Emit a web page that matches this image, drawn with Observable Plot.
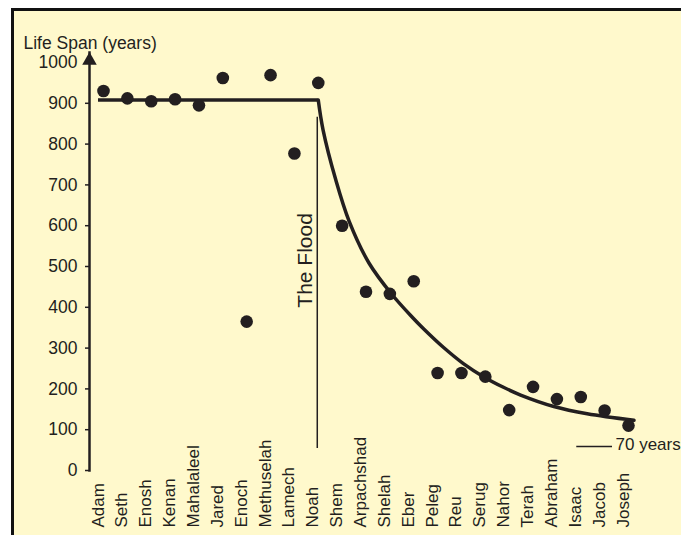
<!DOCTYPE html>
<html>
<head>
<meta charset="utf-8">
<script src="https://cdn.jsdelivr.net/npm/d3@7"></script>
<script src="https://cdn.jsdelivr.net/npm/@observablehq/plot@0.6"></script>
<style>
  html, body { margin: 0; padding: 0; background: #ffffff; }
  #wrap { position: relative; width: 681px; height: 535px; overflow: hidden; }
  #panel { position: absolute; left: 11px; top: 8px; right: 0; bottom: 0;
           background: #fff9cc; border-left: 3px solid #111; border-top: 3px solid #111; }
  #chart { position: absolute; left: 0; top: 0; }
  #chart svg { background: none; }
</style>
</head>
<body>
<div id="wrap"><div id="panel"></div><div id="chart"></div></div>
<script>
// Patriarchs in order (category axis)
const names = ["Adam","Seth","Enosh","Kenan","Mahalaleel","Jared","Enoch","Methuselah","Lamech","Noah",
  "Shem","Arpachshad","Shelah","Eber","Peleg","Reu","Serug","Nahor","Terah","Abraham","Isaac","Jacob","Joseph"];
// Life span (years) of each patriarch
const lifespans = [930, 912, 905, 910, 895, 962, 365, 969, 777, 950,
  600, 438, 433, 464, 239, 239, 230, 148, 205, 175, 180, 147, 110];
// Pre-flood plateau of the trend line
const preFloodLevel = 908;
// Post-flood decay curve (position in patriarch index, years)
const trendPos = [9, 9.2, 9.73, 10.3, 11.13, 12.08, 12.95, 13.4, 14.24, 15.08, 15.92, 16.76, 17.48, 18.87, 20.27, 22.23];
const trendYears = [908, 835, 713, 610, 508, 432, 375, 348, 302, 262, 230, 204, 185, 157, 139, 123];
// Y axis ticks
const yTicks = [0, 100, 200, 300, 400, 500, 600, 700, 800, 900, 1000];
// Flood marker (at Noah) and its label
const floodIndex = 9;
const floodSpan = [54, 866];
const floodLabelY = 515;
const floodLabel = "The Flood";
// 70-year reference annotation
const refLevel = 59;
const refFrom = 20;
const refTo = 22;
const refLabel = "70 years";
const yTitle = "Life Span (years)";

const ink = "#231f20";
const font = "'Liberation Sans Narrow', 'Arial Narrow', 'Liberation Sans', Arial, sans-serif";

const points = names.map((n, i) => ({i, name: n, years: lifespans[i]}));
const trend = trendPos.map((p, k) => ({i: p, years: trendYears[k]}));

const chart = Plot.plot({
  width: 681,
  height: 535,
  marginLeft: 89,
  marginRight: 0,
  marginTop: 52,
  marginBottom: 65,
  style: {background: "none", fontFamily: font, color: ink},
  x: {type: "linear", domain: [0, names.length - 1], range: [103, 628], axis: null},
  y: {domain: [0, 1000], range: [470, 62], axis: null},
  marks: [
    Plot.frame({anchor: "left", stroke: ink, strokeWidth: 2.5}),
    Plot.dot([0], {frameAnchor: "top-left", symbol: "triangle", r: 5.4, fill: ink, stroke: "none", dy: 8}),
    Plot.axisY({ticks: yTicks, tickFormat: d => String(d), label: null, tickSize: 4, tickPadding: 8,
                fontSize: 17.5, stroke: ink, fill: ink, strokeWidth: 1.5}),
    Plot.text([yTitle], {frameAnchor: "top-left", textAnchor: "start", dx: -66, dy: -16, fontSize: 17.5, fill: ink}),
    Plot.text(points, {x: "i", text: "name", frameAnchor: "bottom", rotate: -90, textAnchor: "start", dy: 57, fontSize: 17, fill: ink}),
    Plot.ruleX([floodIndex], {x: d => d, y1: floodSpan[0], y2: floodSpan[1], stroke: ink, strokeWidth: 1.5, dx: -1}),
    Plot.text([floodLabel], {x: () => floodIndex, y: () => floodLabelY, rotate: -90, dx: -13, fontSize: 21, fill: ink}),
    Plot.ruleY([preFloodLevel], {x1: () => 0, x2: () => floodIndex, insetLeft: -5, stroke: ink, strokeWidth: 3.5}),
    Plot.line(trend, {x: "i", y: "years", curve: "catmull-rom", stroke: ink, strokeWidth: 3.5}),
    Plot.dot(points, {x: "i", y: "years", r: 6.3, fill: ink, stroke: "none"}),
    Plot.ruleY([refLevel], {x1: () => refFrom, x2: () => refTo, insetLeft: -4, insetRight: 16, stroke: ink, strokeWidth: 1.5}),
    Plot.text([refLabel], {x: () => refTo, y: () => refLevel, textAnchor: "start", dx: -13, dy: -2, fontSize: 17, fill: ink})
  ]
});
document.getElementById("chart").appendChild(chart);
</script>
</body>
</html>
